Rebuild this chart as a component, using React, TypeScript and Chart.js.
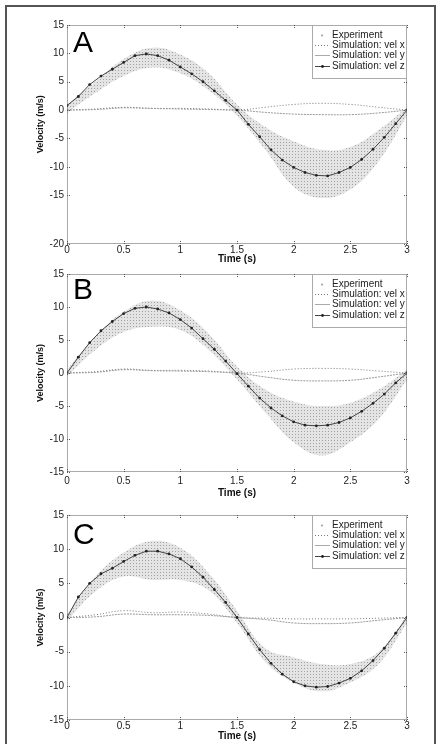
import React, { useEffect, useRef } from "react";
import { Chart, registerables } from "chart.js";
Chart.register(...registerables);

// ---------- data ----------
const simTime = [0, 0.1, 0.2, 0.3, 0.4, 0.5, 0.6, 0.7, 0.8, 0.9, 1.0, 1.1, 1.2, 1.3, 1.4, 1.5, 1.6, 1.7, 1.8, 1.9, 2.0, 2.1, 2.2, 2.3, 2.4, 2.5, 2.6, 2.7, 2.8, 2.9, 3.0];
const smallTime = [0, 0.25, 0.5, 0.75, 1.0, 1.25, 1.5, 1.75, 2.0, 2.25, 2.5, 2.75, 3.0];
const expTime = [0, 0.25, 0.5, 0.75, 1.0, 1.25, 1.5, 1.75, 2.0, 2.25, 2.5, 2.75, 3.0];

// Panel A
const velZ_A = [0.8, 2.4, 4.5, 6.0, 7.2, 8.4, 9.6, 9.9, 9.6, 8.8, 7.6, 6.4, 5.0, 3.4, 1.7, 0.0, -2.5, -4.7, -7.0, -8.8, -10.1, -11.0, -11.5, -11.6, -11.0, -10.1, -8.7, -6.9, -4.8, -2.4, 0.0];
const velX_A = [0, 0.2, 0.5, 0.3, 0.3, 0.2, 0.0, 0.5, 1.0, 1.2, 1.0, 0.5, 0.0];
const velY_A = [0, 0.1, 0.4, 0.3, 0.2, 0.1, 0.0, -0.4, -0.7, -0.8, -0.8, -0.5, 0.0];
const expHi_A = [1.0, 5.0, 9.0, 11.0, 9.8, 6.5, 1.0, -3.0, -5.5, -7.0, -6.5, -3.5, 0.5];
const expLo_A = [-0.5, 3.0, 6.0, 7.5, 6.5, 3.5, -1.0, -7.0, -13.5, -15.5, -14.0, -9.0, -1.0];

// Panel B
const velZ_B = [0.0, 2.4, 4.6, 6.4, 7.8, 9.0, 9.8, 10.0, 9.7, 9.1, 8.1, 6.8, 5.2, 3.6, 1.8, -0.1, -2.0, -3.8, -5.3, -6.5, -7.4, -7.9, -8.0, -7.9, -7.5, -6.8, -5.8, -4.6, -3.2, -1.5, 0.0];
const velX_B = [0, 0.2, 0.6, 0.4, 0.4, 0.3, 0.0, 0.2, 0.6, 0.7, 0.6, 0.3, 0.0];
const velY_B = [0, 0.1, 0.5, 0.35, 0.3, 0.2, 0.0, -0.6, -1.1, -1.2, -1.1, -0.6, 0.0];
const expHi_B = [0.5, 5.5, 9.3, 11.0, 9.5, 6.0, 1.0, -2.5, -4.3, -5.0, -4.5, -2.5, 0.5];
const expLo_B = [-0.5, 3.5, 6.2, 7.0, 6.5, 3.5, -1.0, -6.0, -10.5, -12.5, -10.5, -7.0, -1.0];

// Panel C
const velZ_C = [0.0, 3.0, 5.0, 6.4, 7.2, 8.2, 9.1, 9.7, 9.7, 9.3, 8.6, 7.4, 5.9, 4.1, 2.2, 0.0, -2.4, -4.7, -6.7, -8.3, -9.4, -10.0, -10.2, -10.1, -9.6, -8.9, -7.8, -6.3, -4.5, -2.3, 0.0];
const velX_C = [0, 0.4, 1.0, 0.7, 0.8, 0.5, 0.0, -0.1, -0.2, -0.2, -0.2, -0.1, 0.0];
const velY_C = [0, 0.1, 0.5, 0.4, 0.4, 0.3, 0.0, -0.3, -0.8, -0.9, -0.8, -0.4, 0.0];
const expHi_C = [0.5, 6.0, 9.5, 11.2, 10.2, 6.5, 1.0, -4.5, -5.8, -6.8, -6.8, -5.0, 0.3];
const expLo_C = [-0.5, 3.8, 6.0, 5.5, 5.5, 4.0, -0.8, -6.5, -9.5, -10.8, -9.5, -6.8, -0.8];

// ticks
const xTickValues = [0, 0.5, 1, 1.5, 2, 2.5, 3];
const xTickLabels = ["0", "0.5", "1", "1.5", "2", "2.5", "3"];
const yTickValuesA = [-23.6, -15, -10, -5, 0, 5, 10, 15];
const yTickLabelsA = ["-20", "-15", "-10", "-5", "0", "5", "10", "15"];
const yTickValuesBC = [-15, -10, -5, 0, 5, 10, 15];
const yTickLabelsBC = ["-15", "-10", "-5", "0", "5", "10", "15"];

const legendLabels = ["Experiment", "Simulation: vel x", "Simulation: vel y", "Simulation: vel z"];

const FONT = '"Liberation Sans", Arial, Helvetica, sans-serif';

type PanelCfg = {
  letter: string;
  top: number;
  height: number;
  padTop: number;
  xAxisH: number;
  xTickPad: number;
  yMin: number;
  yTicks: number[];
  yLabels: string[];
  yTitleCenter: number;
  letterBase: number;
  z: number[];
  vx: number[];
  vy: number[];
  hi: number[];
  lo: number[];
};

const panels: PanelCfg[] = [
  { letter: "A", top: 0, height: 265, padTop: 25, xAxisH: 21, xTickPad: 0, yMin: -23.6, yTicks: yTickValuesA, yLabels: yTickLabelsA, yTitleCenter: -2.5, letterBase: 27, z: velZ_A, vx: velX_A, vy: velY_A, hi: expHi_A, lo: expLo_A },
  { letter: "B", top: 265, height: 234, padTop: 7, xAxisH: 27, xTickPad: 3, yMin: -15, yTicks: yTickValuesBC, yLabels: yTickLabelsBC, yTitleCenter: 0, letterBase: 25, z: velZ_B, vx: velX_B, vy: velY_B, hi: expHi_B, lo: expLo_B },
  { letter: "C", top: 499, height: 243, padTop: 16, xAxisH: 22, xTickPad: 0, yMin: -15, yTicks: yTickValuesBC, yLabels: yTickLabelsBC, yTitleCenter: 0, letterBase: 29, z: velZ_C, vx: velX_C, vy: velY_C, hi: expHi_C, lo: expLo_C },
];

function Panel({ cfg }: { cfg: PanelCfg }) {
  const ref = useRef<HTMLCanvasElement>(null);
  useEffect(() => {
    const canvas = ref.current!;
    const pc = document.createElement("canvas");
    pc.width = 3;
    pc.height = 3;
    const pctx = pc.getContext("2d")!;
    pctx.fillStyle = "rgba(210,210,210,0.6)";
    pctx.fillRect(0, 0, 3, 3);
    pctx.fillStyle = "rgba(155,155,155,0.9)";
    pctx.fillRect(1, 1, 1, 1);
    const pattern = canvas.getContext("2d")!.createPattern(pc, "repeat")!;

    const pts = (ts: number[], vs: number[]) => ts.map((t, i) => ({ x: t, y: vs[i] }));

    const framePlugin = {
      id: "frame" + cfg.letter,
      afterDraw(chart: any) {
        const ctx = chart.ctx as CanvasRenderingContext2D;
        const a = chart.chartArea;
        const xs = chart.scales.x;
        const ys = chart.scales.y;
        ctx.save();
        // box
        ctx.strokeStyle = "#555";
        ctx.lineWidth = 1;
        ctx.setLineDash([1, 1]);
        ctx.strokeRect(a.left + 0.5, a.top + 0.5, a.right - a.left - 1, a.bottom - a.top - 1);
        // ticks
        ctx.beginPath();
        xTickValues.forEach((v) => {
          const px = Math.round(xs.getPixelForValue(v)) + 0.5;
          ctx.moveTo(px, a.bottom);
          ctx.lineTo(px, a.bottom - 3);
          ctx.moveTo(px, a.top);
          ctx.lineTo(px, a.top + 3);
        });
        cfg.yTicks.forEach((v) => {
          const py = Math.round(ys.getPixelForValue(v)) + 0.5;
          ctx.moveTo(a.left, py);
          ctx.lineTo(a.left + 3, py);
          ctx.moveTo(a.right, py);
          ctx.lineTo(a.right - 3, py);
        });
        ctx.stroke();
        ctx.setLineDash([]);

        // letter
        ctx.fillStyle = "#000";
        ctx.font = `30px ${FONT}`;
        ctx.textAlign = "left";
        ctx.textBaseline = "alphabetic";
        ctx.fillText(cfg.letter, a.left + 6, a.top + cfg.letterBase);

        // y title
        ctx.save();
        ctx.translate(41, ys.getPixelForValue(cfg.yTitleCenter));
        ctx.rotate(-Math.PI / 2);
        ctx.font = `bold 9px ${FONT}`;
        ctx.fillStyle = "#111";
        ctx.textAlign = "center";
        ctx.textBaseline = "middle";
        ctx.fillText("Velocity (m/s)", 0, 0);
        ctx.restore();

        // legend
        const lw = 95, lh = 54;
        const lx = a.right - lw, ly = a.top;
        ctx.fillStyle = "#fff";
        ctx.fillRect(lx, ly, lw, lh);
        ctx.strokeStyle = "#555";
        ctx.setLineDash([1, 1]);
        ctx.strokeRect(lx + 0.5, ly + 0.5, lw - 1, lh - 1);
        ctx.setLineDash([]);
        ctx.font = `10px ${FONT}`;
        ctx.textBaseline = "middle";
        ctx.textAlign = "left";
        legendLabels.forEach((lab, i) => {
          const ry = Math.round(ly + 9.5 + i * 10.4) + 0.5;
          if (i === 0) {
            ctx.fillStyle = "#999";
            ctx.beginPath();
            ctx.arc(lx + 10, ry, 1, 0, Math.PI * 2);
            ctx.fill();
          } else if (i === 1) {
            ctx.strokeStyle = "#777";
            ctx.setLineDash([1, 2]);
            ctx.beginPath();
            ctx.moveTo(lx + 3, ry);
            ctx.lineTo(lx + 18, ry);
            ctx.stroke();
            ctx.setLineDash([]);
          } else if (i === 2) {
            ctx.strokeStyle = "#aaa";
            ctx.beginPath();
            ctx.moveTo(lx + 3, ry);
            ctx.lineTo(lx + 18, ry);
            ctx.stroke();
          } else {
            ctx.strokeStyle = "#444";
            ctx.beginPath();
            ctx.moveTo(lx + 3, ry);
            ctx.lineTo(lx + 18, ry);
            ctx.stroke();
            ctx.fillStyle = "#222";
            ctx.beginPath();
            ctx.arc(lx + 10.5, ry, 1.4, 0, Math.PI * 2);
            ctx.fill();
          }
          ctx.fillStyle = "#222";
          ctx.fillText(lab, lx + 20, ry);
        });
        ctx.restore();
      },
    };

    const chart = new Chart(canvas, {
      type: "line",
      data: {
        datasets: [
          {
            label: legendLabels[3],
            data: pts(simTime, cfg.z),
            borderColor: "#444",
            borderWidth: 1,
            pointRadius: 1.4,
            pointBackgroundColor: "#222",
            pointBorderWidth: 0,
            fill: false,
            tension: 0,
          },
          {
            label: legendLabels[2],
            data: pts(smallTime, cfg.vy),
            borderColor: "#999",
            borderWidth: 1,
            borderDash: [2, 1],
            pointRadius: 0,
            fill: false,
            tension: 0.4,
          },
          {
            label: legendLabels[1],
            data: pts(smallTime, cfg.vx),
            borderColor: "#777",
            borderWidth: 1,
            borderDash: [1, 2],
            pointRadius: 0,
            fill: false,
            tension: 0.4,
          },
          {
            label: legendLabels[0],
            data: pts(expTime, cfg.hi),
            borderWidth: 0,
            borderColor: "rgba(0,0,0,0)",
            backgroundColor: pattern,
            pointRadius: 0,
            fill: "+1",
            tension: 0.4,
          },
          {
            label: legendLabels[0] + " low",
            data: pts(expTime, cfg.lo),
            borderWidth: 0,
            borderColor: "rgba(0,0,0,0)",
            pointRadius: 0,
            fill: false,
            tension: 0.4,
          },
        ],
      },
      options: {
        animation: false,
        responsive: false,
        maintainAspectRatio: false,
        layout: { padding: { top: cfg.padTop, right: 35, left: 0, bottom: 0 } },
        plugins: { legend: { display: false }, tooltip: { enabled: false } },
        scales: {
          x: {
            type: "linear",
            min: 0,
            max: 3,
            grid: { display: false, drawTicks: false },
            border: { display: false },
            afterBuildTicks: (s: any) => {
              s.ticks = xTickValues.map((v) => ({ value: v }));
            },
            afterFit: (s: any) => {
              s.height = cfg.xAxisH;
            },
            ticks: {
              autoSkip: false,
              maxRotation: 0,
              padding: cfg.xTickPad,
              color: "#222",
              font: { family: FONT, size: 10 },
              callback: (_v: any, i: number) => xTickLabels[i],
            },
            title: {
              display: true,
              text: "Time (s)",
              color: "#111",
              font: { family: FONT, size: 10, weight: "bold" },
              padding: { top: 0, bottom: 0 },
            },
          },
          y: {
            type: "linear",
            min: cfg.yMin,
            max: 15,
            grid: { display: false, drawTicks: false },
            border: { display: false },
            afterBuildTicks: (s: any) => {
              s.ticks = cfg.yTicks.map((v) => ({ value: v }));
            },
            afterFit: (s: any) => {
              s.width = 67;
            },
            ticks: {
              autoSkip: false,
              padding: 3,
              color: "#222",
              font: { family: FONT, size: 10 },
              callback: (_v: any, i: number) => cfg.yLabels[i],
            },
          },
        },
      } as any,
      plugins: [framePlugin],
    });
    return () => chart.destroy();
  }, []);
  return (
    <canvas
      ref={ref}
      width={442}
      height={cfg.height}
      style={{ position: "absolute", left: 0, top: cfg.top, display: "block" }}
    />
  );
}

export default function App() {
  return (
    <div style={{ position: "fixed", left: 0, top: 0, width: 442, height: 744, overflow: "hidden", background: "#fff" }}>
      <div
        style={{
          position: "absolute",
          left: 5,
          top: 5,
          width: 431,
          height: 800,
          border: "2px solid #555",
          boxSizing: "border-box",
        }}
      />
      {panels.map((p) => (
        <Panel key={p.letter} cfg={p} />
      ))}
    </div>
  );
}
